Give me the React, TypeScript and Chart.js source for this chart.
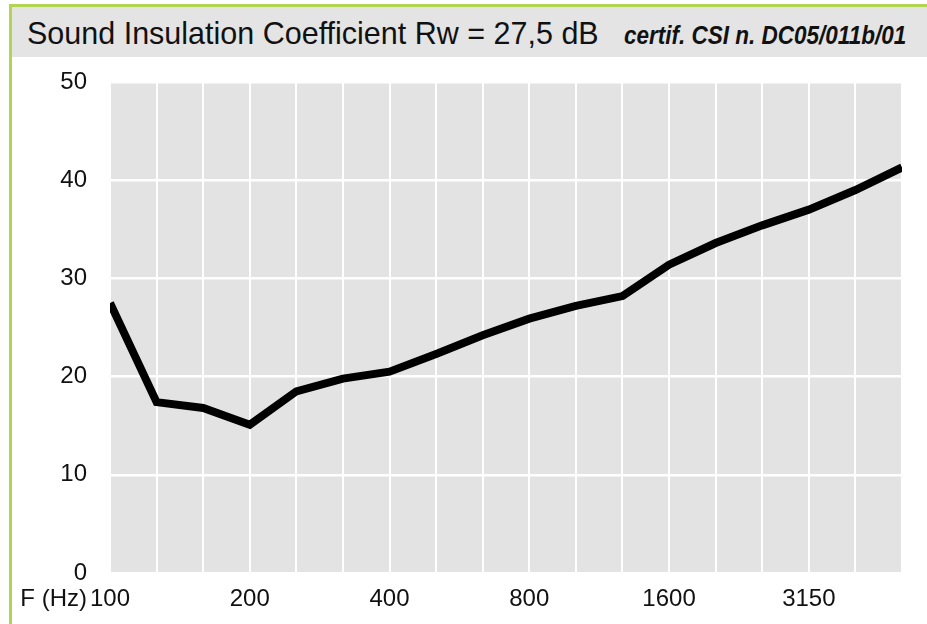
import React, { useEffect, useRef } from "react";
import { Chart, registerables } from "chart.js";

Chart.register(...registerables);

const categories = ["100", "125", "160", "200", "250", "315", "400", "500", "630", "800", "1000", "1250", "1600", "2000", "2500", "3150", "4000", "5000"];
const shownLabels = ["100", "200", "400", "800", "1600", "3150"];
const rwValues = [27.5, 17.4, 16.8, 15.1, 18.5, 19.8, 20.5, 22.3, 24.2, 25.9, 27.2, 28.2, 31.4, 33.6, 35.4, 37.0, 39.0, 41.3];
const yMin = 0;
const yMax = 50;
const yStep = 10;
const xAxisName = "F (Hz)";
const titleMain = "Sound Insulation Coefficient Rw = 27,5 dB";
const titleCert = "certif. CSI n. DC05/011b/01";

const FONT = "'Liberation Sans', Arial, sans-serif";

const plotBg = {
  id: "plotBg",
  beforeDraw(chart: any) {
    const { ctx, chartArea } = chart;
    ctx.save();
    ctx.fillStyle = "#e3e3e3";
    ctx.fillRect(chartArea.left, chartArea.top, chartArea.right - chartArea.left, chartArea.bottom - chartArea.top);
    ctx.restore();
  },
};

const axisName = {
  id: "axisName",
  afterDraw(chart: any) {
    const { ctx } = chart;
    const xs = chart.scales.x;
    ctx.save();
    ctx.font = `24px ${FONT}`;
    ctx.fillStyle = "#111";
    ctx.textAlign = "right";
    ctx.textBaseline = "middle";
    ctx.fillText(xAxisName, xs.getPixelForTick(0) - 23, xs.top + 12 + 14.4);
    ctx.restore();
  },
};

export default function App() {
  const ref = useRef<HTMLCanvasElement | null>(null);

  useEffect(() => {
    if (!ref.current) return;
    const chart = new Chart(ref.current, {
      type: "line",
      data: {
        labels: categories,
        datasets: [
          {
            data: rwValues,
            borderColor: "#000",
            borderWidth: 8,
            pointRadius: 0,
            tension: 0,
            borderJoinStyle: "miter",
            clip: 0,
          },
        ],
      },
      options: {
        animation: false,
        responsive: false,
        layout: { padding: { top: 22, right: 25, left: 0, bottom: 0 } },
        plugins: { legend: { display: false }, tooltip: { enabled: false }, title: { display: false } },
        scales: {
          x: {
            type: "category",
            offset: false,
            border: { display: false },
            grid: { color: "#ffffff", lineWidth: 2, drawTicks: false, z: 0 },
            ticks: {
              autoSkip: false,
              maxRotation: 0,
              padding: 12,
              color: "#111",
              font: { family: FONT, size: 24 },
              callback: (_v: any, i: number) => (shownLabels.includes(categories[i]) ? categories[i] : ""),
            },
            afterFit: (s: any) => {
              s.height = 51;
            },
          },
          y: {
            min: yMin,
            max: yMax,
            border: { display: false },
            grid: { color: "#ffffff", lineWidth: 2.6, drawTicks: false },
            ticks: {
              stepSize: yStep,
              padding: 23,
              color: "#111",
              font: { family: FONT, size: 24 },
            },
            afterFit: (s: any) => {
              s.width = 110;
              s.paddingTop = 14;
              s.paddingBottom = 14;
            },
          },
        },
      },
      plugins: [plotBg, axisName],
    });
    return () => chart.destroy();
  }, []);

  return (
    <div style={{ position: "absolute", left: 0, top: 0, width: 927, height: 624, overflow: "hidden", background: "#fff" }}>
      <div
        style={{
          position: "absolute",
          left: 9,
          top: 4,
          width: 1200,
          height: 1200,
          borderLeft: "3px solid #b3d452",
          borderTop: "3px solid #b3d452",
        }}
      />
      <div style={{ position: "absolute", left: 12, top: 7, width: 915, height: 50, background: "#e4e4e4" }} />
      <div
        style={{
          position: "absolute",
          left: 27,
          top: 18,
          whiteSpace: "nowrap",
          fontFamily: FONT,
          fontSize: 30.5,
          lineHeight: "30px",
          color: "#111",
        }}
      >
        <span>{titleMain}</span>
        <span
          style={{
            display: "inline-block",
            marginLeft: 25,
            fontSize: 25,
            fontWeight: "bold",
            fontStyle: "italic",
            transform: "scaleX(0.9)",
            transformOrigin: "left center",
          }}
        >
          {titleCert}
        </span>
      </div>
      <canvas ref={ref} width={927} height={564} style={{ position: "absolute", left: 0, top: 60, width: 927, height: 564 }} />
    </div>
  );
}
